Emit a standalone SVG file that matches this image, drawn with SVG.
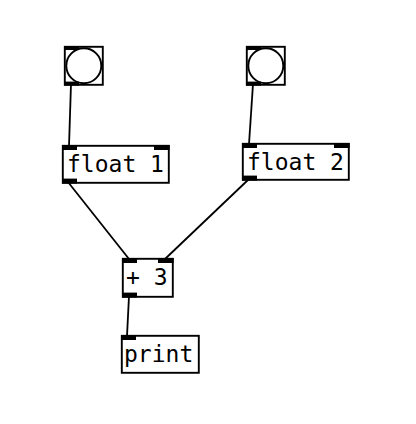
<svg xmlns="http://www.w3.org/2000/svg" width="416" height="424" viewBox="0 0 416 424">
<style>
.box{fill:#fff;stroke:#000;stroke-width:1.9}
.io{fill:#000}
.t{font-family:"DejaVu Sans Mono",monospace;font-size:23px;fill:#000}
.c{stroke:#000;stroke-width:1.8;fill:none}
</style>
<rect width="416" height="424" fill="#fff"/>
<g id="connectors">
<line class="c" x1="71" y1="84" x2="69" y2="146"/>
<line class="c" x1="253" y1="84" x2="249" y2="144"/>
<line class="c" x1="68" y1="182" x2="129" y2="259"/>
<line class="c" x1="249" y1="179" x2="165" y2="259"/>
<line class="c" x1="129" y1="296" x2="127" y2="336"/>
</g>
<g id="bang1">
<rect class="box" x="64.8" y="46.8" width="38" height="38"/>
<circle cx="83.8" cy="65.8" r="17.5" fill="#fff" stroke="#000" stroke-width="1.9"/>
<rect class="io" x="64" y="46" width="15" height="4"/>
<rect class="io" x="64" y="81.6" width="15" height="4"/>
</g>
<g id="bang2">
<rect class="box" x="246.8" y="46.8" width="38" height="38"/>
<circle cx="265.8" cy="65.8" r="17.5" fill="#fff" stroke="#000" stroke-width="1.9"/>
<rect class="io" x="246" y="46" width="15" height="4"/>
<rect class="io" x="246" y="81.6" width="15" height="4"/>
</g>
<g id="float1">
<rect class="box" x="62.8" y="145.8" width="106" height="37"/>
<rect class="io" x="62" y="145" width="15" height="5"/>
<rect class="io" x="154" y="145" width="15.6" height="5"/>
<rect class="io" x="62" y="178.6" width="15" height="5"/>
<text class="t" x="67" y="172">float 1</text>
</g>
<g id="float2">
<rect class="box" x="242.8" y="143.8" width="106" height="36"/>
<rect class="io" x="242" y="143" width="15" height="5"/>
<rect class="io" x="334" y="143" width="15.6" height="5"/>
<rect class="io" x="242" y="175.6" width="15" height="5"/>
<text class="t" x="247" y="170">float 2</text>
</g>
<g id="plus3">
<rect class="box" x="122.8" y="258.8" width="50" height="38"/>
<rect class="io" x="122" y="258" width="15" height="5"/>
<rect class="io" x="158" y="258" width="15.6" height="5"/>
<rect class="io" x="122" y="292.6" width="15" height="5"/>
<text class="t" x="126" y="285">+ 3</text>
</g>
<g id="print">
<rect class="box" x="121.8" y="335.8" width="77" height="37"/>
<rect class="io" x="121" y="335" width="15" height="5"/>
<text class="t" x="124" y="362">print</text>
</g>
</svg>
